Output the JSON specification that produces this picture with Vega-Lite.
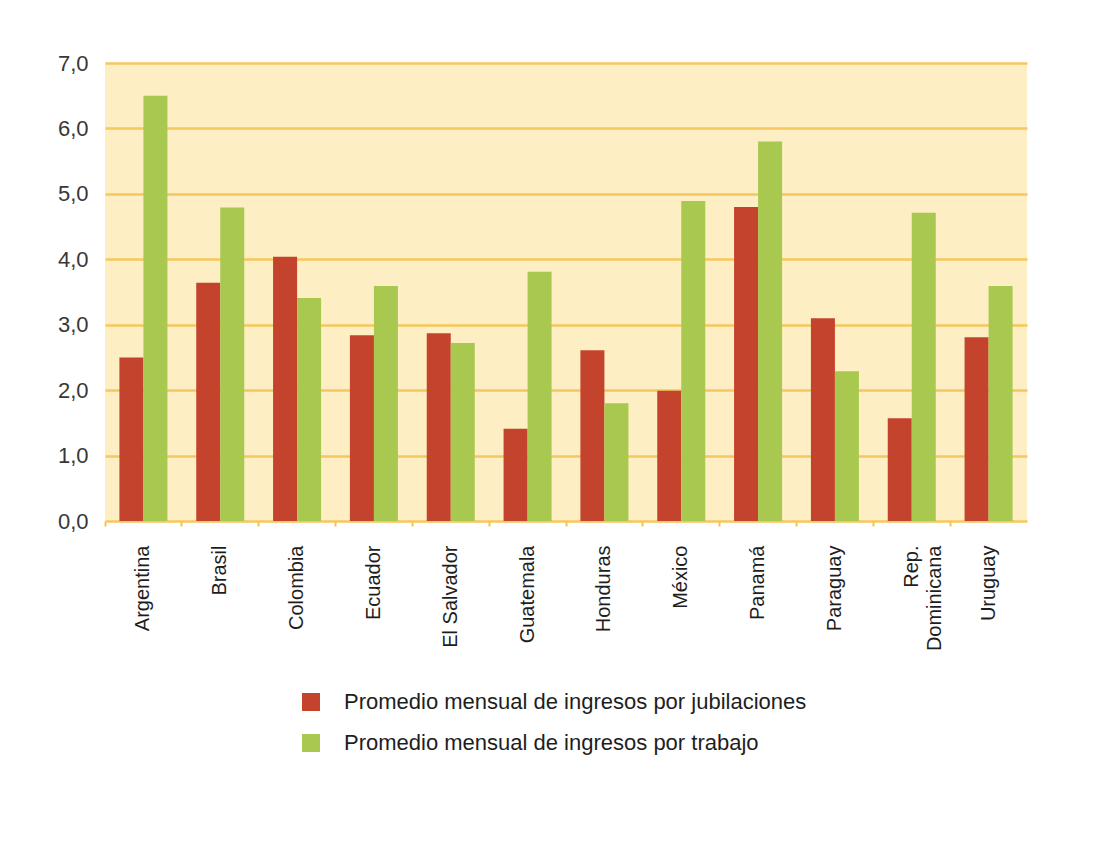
{
  "$schema": "https://vega.github.io/schema/vega-lite/v6.json",
  "autosize": {"type": "none"},
  "width": 922,
  "height": 458,
  "padding": {"left": 105, "top": 63, "right": 69, "bottom": 346},
  "background": "#ffffff",
  "config": {
    "view": {"fill": "#fdefc3", "stroke": null},
    "font": "Liberation Sans",
    "axis": {"labelFont": "Liberation Sans"},
    "legend": {"labelFont": "Liberation Sans"}
  },
  "data": {
    "values": [
      {"pais": "Argentina", "serie": "Promedio mensual de ingresos por jubilaciones", "valor": 2.5},
      {"pais": "Argentina", "serie": "Promedio mensual de ingresos por trabajo", "valor": 6.5},
      {"pais": "Brasil", "serie": "Promedio mensual de ingresos por jubilaciones", "valor": 3.64},
      {"pais": "Brasil", "serie": "Promedio mensual de ingresos por trabajo", "valor": 4.79},
      {"pais": "Colombia", "serie": "Promedio mensual de ingresos por jubilaciones", "valor": 4.04},
      {"pais": "Colombia", "serie": "Promedio mensual de ingresos por trabajo", "valor": 3.41},
      {"pais": "Ecuador", "serie": "Promedio mensual de ingresos por jubilaciones", "valor": 2.84},
      {"pais": "Ecuador", "serie": "Promedio mensual de ingresos por trabajo", "valor": 3.59},
      {"pais": "El Salvador", "serie": "Promedio mensual de ingresos por jubilaciones", "valor": 2.87},
      {"pais": "El Salvador", "serie": "Promedio mensual de ingresos por trabajo", "valor": 2.72},
      {"pais": "Guatemala", "serie": "Promedio mensual de ingresos por jubilaciones", "valor": 1.41},
      {"pais": "Guatemala", "serie": "Promedio mensual de ingresos por trabajo", "valor": 3.81},
      {"pais": "Honduras", "serie": "Promedio mensual de ingresos por jubilaciones", "valor": 2.61},
      {"pais": "Honduras", "serie": "Promedio mensual de ingresos por trabajo", "valor": 1.8},
      {"pais": "México", "serie": "Promedio mensual de ingresos por jubilaciones", "valor": 1.99},
      {"pais": "México", "serie": "Promedio mensual de ingresos por trabajo", "valor": 4.89},
      {"pais": "Panamá", "serie": "Promedio mensual de ingresos por jubilaciones", "valor": 4.8},
      {"pais": "Panamá", "serie": "Promedio mensual de ingresos por trabajo", "valor": 5.8},
      {"pais": "Paraguay", "serie": "Promedio mensual de ingresos por jubilaciones", "valor": 3.1},
      {"pais": "Paraguay", "serie": "Promedio mensual de ingresos por trabajo", "valor": 2.29},
      {"pais": "Rep. Dominicana", "serie": "Promedio mensual de ingresos por jubilaciones", "valor": 1.57},
      {"pais": "Rep. Dominicana", "serie": "Promedio mensual de ingresos por trabajo", "valor": 4.71},
      {"pais": "Uruguay", "serie": "Promedio mensual de ingresos por jubilaciones", "valor": 2.81},
      {"pais": "Uruguay", "serie": "Promedio mensual de ingresos por trabajo", "valor": 3.59}
    ]
  },
  "mark": {"type": "bar"},
  "encoding": {
    "x": {
      "field": "pais",
      "type": "nominal",
      "sort": null,
      "scale": {"paddingInner": 0, "paddingOuter": 0},
      "axis": {
        "title": null,
        "bandPosition": 0,
        "domain": false,
        "ticks": true,
        "tickSize": 5,
        "tickColor": "#f2c25a",
        "tickWidth": 2,
        "labelAngle": -90,
        "labelAlign": "right",
        "labelBaseline": "middle",
        "labelPadding": 19,
        "labelFont": "Liberation Sans",
        "labelFontSize": 20,
        "labelColor": "#1e1e1e",
        "labelLineHeight": 23,
        "labelExpr": "datum.label == 'Rep. Dominicana' ? ['Rep.', 'Dominicana'] : datum.label"
      }
    },
    "xOffset": {
      "field": "serie",
      "type": "nominal",
      "scale": {"paddingInner": 0, "paddingOuter": 0.6}
    },
    "y": {
      "field": "valor",
      "type": "quantitative",
      "scale": {"domain": [0, 7], "nice": false},
      "axis": {
        "title": null,
        "values": [0, 1, 2, 3, 4, 5, 6, 7],
        "domain": false,
        "ticks": false,
        "grid": true,
        "gridColor": "#f6c75e",
        "gridWidth": 2.5,
        "labelPadding": 17,
        "labelFont": "Liberation Sans",
        "labelFontSize": 22,
        "labelColor": "#383838",
        "labelExpr": "replace(format(datum.value, '.1f'), '.', ',')"
      }
    },
    "color": {
      "field": "serie",
      "type": "nominal",
      "scale": {
        "domain": ["Promedio mensual de ingresos por jubilaciones", "Promedio mensual de ingresos por trabajo"],
        "range": ["#c4432c", "#a9c84f"]
      },
      "legend": {
        "title": null,
        "orient": "none",
        "legendX": 195,
        "legendY": 628,
        "padding": 0,
        "symbolType": "square",
        "symbolSize": 324,
        "symbolStrokeWidth": 0,
        "labelFont": "Liberation Sans",
        "labelFontSize": 22,
        "labelColor": "#1e1e1e",
        "labelOffset": 22,
        "rowPadding": 19,
        "labelLimit": 700
      }
    }
  }
}
